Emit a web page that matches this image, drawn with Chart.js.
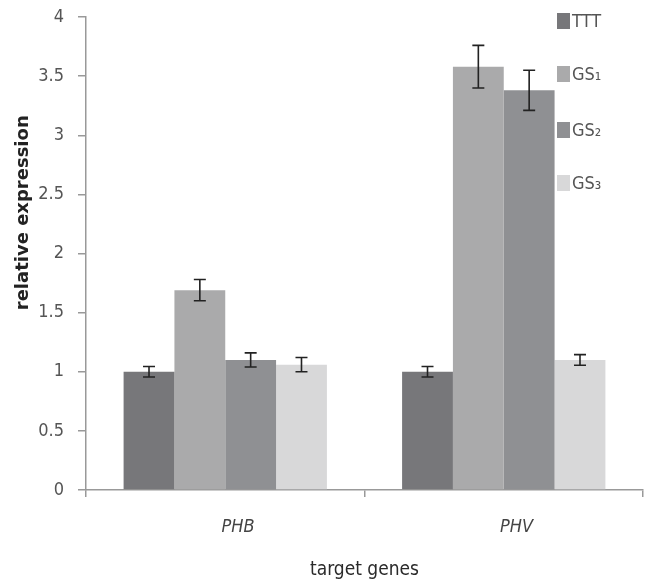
<!DOCTYPE html>
<html>
<head>
<meta charset="utf-8">
<script src="https://cdn.jsdelivr.net/npm/chart.js@4"></script>
<style>
  html, body { margin: 0; padding: 0; background: #fff; }
  #wrap { width: 651px; height: 587px; }
</style>
</head>
<body>
<div id="wrap"><canvas id="myChart" width="651" height="587"></canvas></div>
<script>
const genes = ['PHB', 'PHV'];
const seriesNames = ['TTT', 'GS\u2081', 'GS\u2082', 'GS\u2083'];
const tttVals = [1.00, 1.00];
const gs1Vals = [1.69, 3.58];
const gs2Vals = [1.10, 3.38];
const gs3Vals = [1.06, 1.10];
const tttErr = [0.045, 0.045];
const gs1Err = [0.09, 0.18];
const gs2Err = [0.06, 0.17];
const gs3Err = [0.06, 0.045];
const yTicks = [0, 0.5, 1, 1.5, 2, 2.5, 3, 3.5, 4];

const colors = ['#77777a', '#aaaaab', '#8f9093', '#d8d8d9'];
const narrow = '"DejaVu Sans Condensed", "Liberation Sans Narrow", sans-serif';

// error bars, drawn through the y scale
const errorBars = {
  id: 'errorBars',
  afterDatasetsDraw(chart) {
    const ctx = chart.ctx;
    const y = chart.scales.y;
    ctx.save();
    ctx.strokeStyle = '#222';
    ctx.lineWidth = 1.6;
    chart.data.datasets.forEach((ds, i) => {
      const meta = chart.getDatasetMeta(i);
      meta.data.forEach((bar, j) => {
        const v = ds.data[j];
        const e = ds.err[j];
        const top = y.getPixelForValue(v + e);
        const bot = y.getPixelForValue(v - e);
        ctx.beginPath();
        ctx.moveTo(bar.x, top); ctx.lineTo(bar.x, bot);
        ctx.moveTo(bar.x - 6, top); ctx.lineTo(bar.x + 6, top);
        ctx.moveTo(bar.x - 6, bot); ctx.lineTo(bar.x + 6, bot);
        ctx.stroke();
      });
    });
    ctx.restore();
  }
};

// legend sitting inside the plot on the right
const sideLegend = {
  id: 'sideLegend',
  afterDraw(chart) {
    const ctx = chart.ctx;
    const rows = [21, 74, 130, 183];
    ctx.save();
    ctx.font = '18px ' + narrow;
    ctx.textBaseline = 'middle';
    chart.data.datasets.forEach((ds, i) => {
      const yy = rows[i];
      ctx.fillStyle = ds.backgroundColor;
      ctx.fillRect(557, yy - 8, 13, 16);
      ctx.fillStyle = '#555';
      ctx.fillText(ds.label, 572, yy + 1);
    });
    ctx.restore();
  }
};

new Chart(document.getElementById('myChart').getContext('2d'), {
  type: 'bar',
  data: {
    labels: genes,
    datasets: [
      { label: seriesNames[0], data: tttVals, err: tttErr, backgroundColor: colors[0] },
      { label: seriesNames[1], data: gs1Vals, err: gs1Err, backgroundColor: colors[1] },
      { label: seriesNames[2], data: gs2Vals, err: gs2Err, backgroundColor: colors[2] },
      { label: seriesNames[3], data: gs3Vals, err: gs3Err, backgroundColor: colors[3] }
    ]
  },
  options: {
    responsive: false,
    animation: false,
    layout: { padding: { top: 17, right: 8, left: 0, bottom: 0 } },
    datasets: { bar: { categoryPercentage: 0.73, barPercentage: 1.0 } },
    plugins: {
      legend: { display: false },
      tooltip: { enabled: false }
    },
    scales: {
      x: {
        offset: true,
        afterFit(axis) { axis.height = 97; axis.paddingLeft = 0; axis.paddingRight = 0; },
        grid: { offset: true, drawOnChartArea: false, color: '#999', tickLength: 7, lineWidth: 1.5 },
        border: { color: '#999', width: 1.5 },
        ticks: {
          color: '#444',
          padding: 20,
          callback(v) { return '\u00a0\u00a0\u00a0\u00a0\u00a0' + this.getLabelForValue(v); },
          font: { family: narrow, size: 18, style: 'italic' }
        },
        title: {
          display: true,
          text: 'target genes',
          color: '#2a2a2a',
          padding: { top: 10, bottom: 6 },
          font: { family: narrow, size: 19 }
        }
      },
      y: {
        min: 0,
        max: 4,
        afterBuildTicks(axis) { axis.ticks = yTicks.map(v => ({ value: v })); },
        afterFit(axis) { axis.width = 86; axis.paddingTop = 0; axis.paddingBottom = 0; },
        grid: { drawOnChartArea: false, color: '#999', tickLength: 8, lineWidth: 1.5 },
        border: { color: '#999', width: 1.5 },
        ticks: {
          color: '#555',
          padding: 14,
          callback: v => String(v),
          font: { family: narrow, size: 18 }
        },
        title: {
          display: true,
          text: '\u00a0'.repeat(13) + 'relative expression',
          color: '#222',
          padding: { top: 13, bottom: 4 },
          font: { family: '"DejaVu Sans", sans-serif', size: 18, weight: 'bold' }
        }
      }
    }
  },
  plugins: [errorBars, sideLegend]
});
</script>
</body>
</html>
